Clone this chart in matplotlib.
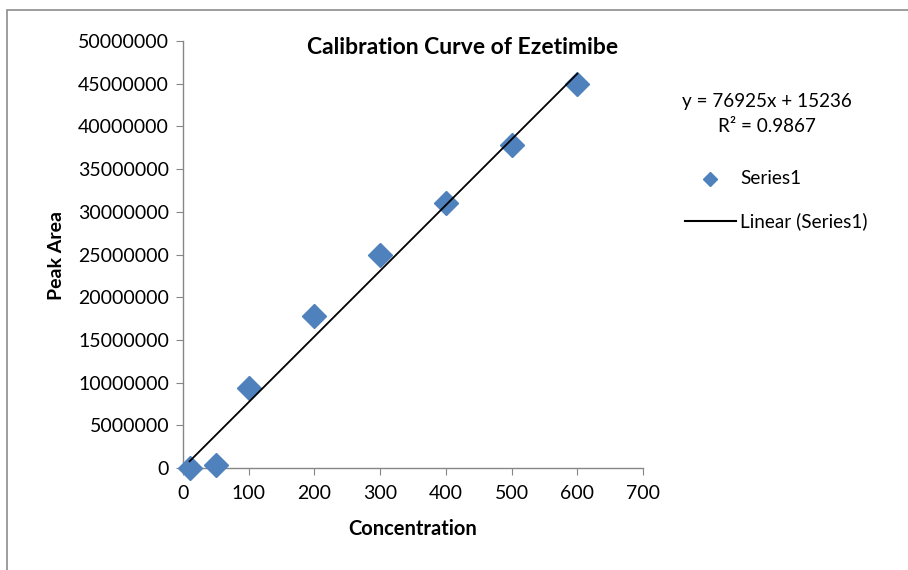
import matplotlib
matplotlib.use("Agg")
import matplotlib.pyplot as plt
import numpy as np
from matplotlib.lines import Line2D
from matplotlib.patches import Rectangle

plt.rcParams['font.family'] = ['Lato', 'DejaVu Sans']

concentration = [10, 50, 100, 200, 300, 400, 500, 600]
peak_area = [50000, 400000, 9400000, 17800000, 24900000, 31000000, 37800000, 45000000]
slope = 76925
intercept = 15236
r2 = 0.9867
x_ticks = [0, 100, 200, 300, 400, 500, 600, 700]
y_ticks = list(range(0, 50000001, 5000000))

W, H = 908, 570
fig = plt.figure(figsize=(W/100, H/100), dpi=100)
fig.patches.append(Rectangle((7/W, -0.1), 1.2, (1 - 10/H) + 0.1, transform=fig.transFigure,
                             fill=False, edgecolor='#8c8c8c', linewidth=1.2))

ax = fig.add_axes([183/W, 1 - 468/H, (643-183)/W, (468-41)/H])
ax.set_xlim(0, 700)
ax.set_ylim(0, 50000000)
ax.set_xticks(x_ticks)
ax.set_yticks(y_ticks)
ax.set_xticklabels([str(v) for v in x_ticks])
ax.set_yticklabels([str(v) for v in y_ticks])
for s in ['top', 'right']:
    ax.spines[s].set_visible(False)
for s in ['left', 'bottom']:
    ax.spines[s].set_color('#868686')
    ax.spines[s].set_linewidth(1.0)
ax.tick_params(axis='both', direction='out', length=5, color='#868686', labelsize=14)
ax.tick_params(axis='x', pad=7)
ax.tick_params(axis='y', pad=5)

sc, = ax.plot(concentration, peak_area, linestyle='none', marker='D', markersize=12,
              color='#4F81BD', markeredgecolor='#4F81BD', clip_on=False, zorder=3)
xl = np.array([min(concentration), max(concentration)])
ax.plot(xl, slope * xl + intercept, color='black', linewidth=1.3, zorder=4, clip_on=False)

fig.text(413/W, 1 - 529/H, 'Concentration', fontsize=14.5, fontweight='bold', ha='center', va='center')
fig.text(57/W, 1 - 255/H, 'Peak Area', fontsize=14, fontweight='bold', ha='center', va='center',
         rotation=90)
fig.text(463/W, 1 - 48/H, 'Calibration Curve of Ezetimibe', fontsize=16.5, fontweight='bold',
         ha='center', va='center')

fig.text(767/W, 1 - 102/H, f'y = {slope}x + {intercept}', fontsize=13.6, ha='center', va='center')
fig.text(767/W, 1 - 127/H, f'R² = {r2}', fontsize=13.6, ha='center', va='center')

fig.add_artist(Line2D([710/W], [1 - 179/H], marker='D', markersize=7, color='#4F81BD',
                      transform=fig.transFigure))
fig.text(740/W, 1 - 179/H, 'Series1', fontsize=13.6, ha='left', va='center')
fig.add_artist(Line2D([685/W, 736/W], [1 - 221/H, 1 - 221/H], color='black', linewidth=1.5,
                      transform=fig.transFigure))
fig.text(740/W, 1 - 221/H, 'Linear (Series1)', fontsize=13.6, ha='left', va='center')

fig.savefig('out.png', dpi=100)
